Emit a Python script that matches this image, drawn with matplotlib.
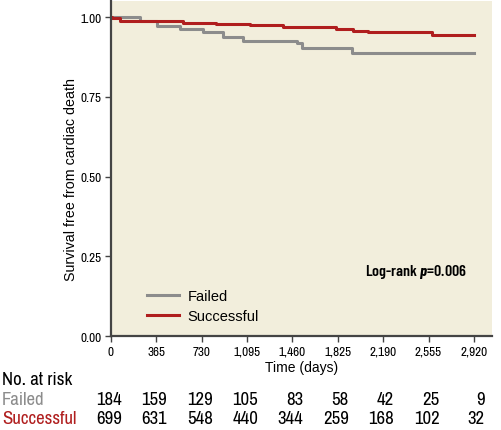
import matplotlib
matplotlib.use("Agg")
import matplotlib.pyplot as plt
import matplotlib.transforms as mtransforms

# === Datos ===
failed_days = [0, 233, 370, 555, 740, 901, 1062, 1496, 1536, 1939, 2920]
failed_surv = [1.000, 0.989, 0.972, 0.962, 0.952, 0.938, 0.925, 0.919, 0.903, 0.886, 0.886]

success_days = [0, 10, 72, 579, 845, 1118, 1384, 1810, 1947, 2067, 2582, 2920]
success_surv = [1.000, 0.996, 0.9875, 0.982, 0.978, 0.975, 0.969, 0.962, 0.957, 0.952, 0.943, 0.943]

tick_days = [0, 365, 730, 1095, 1460, 1825, 2190, 2555, 2920]
tick_labels = ["0", "365", "730", "1,095", "1,460", "1,825", "2,190", "2,555", "2,920"]
y_ticks = [0.00, 0.25, 0.50, 0.75, 1.00]

risk_failed = [184, 159, 129, 105, 83, 58, 42, 25, 9]
risk_success = [699, 631, 548, 440, 344, 259, 168, 102, 32]

gray = "#8c8c8c"
red = "#b01e1e"
narrow = ["Archivo Narrow", "DejaVu Sans"]
narrow_bold = ["Barlow Condensed", "DejaVu Sans"]
regular = ["Liberation Sans", "DejaVu Sans"]

plt.rcParams["mathtext.fontset"] = "custom"
plt.rcParams["mathtext.it"] = "Barlow Condensed:italic:bold"
plt.rcParams["mathtext.rm"] = "Barlow Condensed:bold"

# === Gráfico ===
fig = plt.figure(figsize=(5.02, 4.31), dpi=100)
ax = fig.add_axes([0.221, 0.218, 0.759, 0.777])
ax.set_facecolor("#f2eedc")

ax.step(failed_days, failed_surv, where="post", color=gray, lw=2.2, label="Failed")
ax.step(success_days, success_surv, where="post", color=red, lw=2.2, label="Successful")

ax.set_xlim(0, 3065)
ax.set_ylim(0, 1.05)
ax.set_xticks(tick_days)
ax.set_xticklabels(tick_labels, family=narrow, fontsize=9.5)
ax.set_yticks(y_ticks)
ax.set_yticklabels(["%.2f" % v for v in y_ticks], family=narrow, fontsize=9.5)
ax.tick_params(length=4, width=1, color="#444444", pad=3)

for s in ["top", "right"]:
    ax.spines[s].set_visible(False)
for s in ["left", "bottom"]:
    ax.spines[s].set_linewidth(1.6)
    ax.spines[s].set_color("#444444")

ax.set_xlabel("Time (days)", family=regular, fontsize=10, labelpad=2)
ax.set_ylabel("Survival free from cardiac death", family=regular, fontsize=10.3)
ax.yaxis.set_label_coords(-0.087, 0.47)

ax.legend(loc="lower left", bbox_to_anchor=(0.06, 0.0), frameon=False,
          prop={"family": regular, "size": 10.5}, handlelength=2.2,
          handletextpad=0.6, labelspacing=0.38)

ax.text(0.668, 0.193, r"Log-rank $p$=0.006", transform=ax.transAxes, family=narrow_bold,
        fontsize=11.5, fontweight="semibold", ha="left", va="center")

# === Tabla de pacientes en riesgo ===
trans = mtransforms.blended_transform_factory(ax.transData, fig.transFigure)
shift = mtransforms.ScaledTranslation(11 / 100, 0, fig.dpi_scale_trans)
fig.text(0.004, 0.118, "No. at risk", family=narrow, fontsize=13.5, va="center")
fig.text(0.004, 0.072, "Failed", family=narrow, fontsize=13.5, va="center", color=gray)
fig.text(0.004, 0.027, "Successful", family=narrow, fontsize=13.5, va="center", color=red)
for d, nf, ns in zip(tick_days, risk_failed, risk_success):
    ax.text(d, 0.072, str(nf), transform=trans + shift, ha="right", va="center",
            family=narrow, fontsize=13.5, clip_on=False)
    ax.text(d, 0.027, str(ns), transform=trans + shift, ha="right", va="center",
            family=narrow, fontsize=13.5, clip_on=False)

fig.savefig("out.png", dpi=100)
